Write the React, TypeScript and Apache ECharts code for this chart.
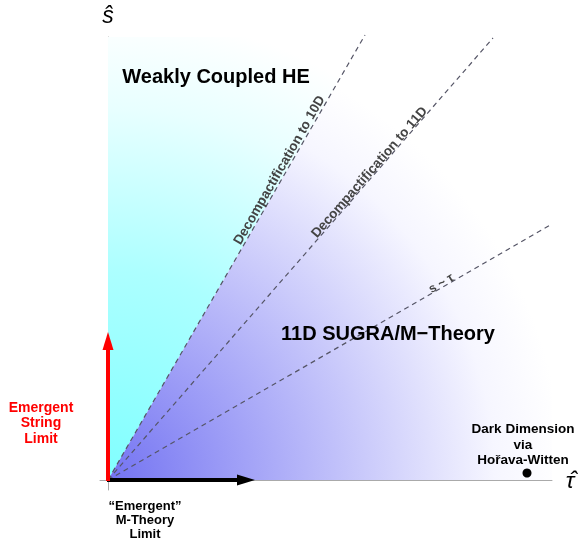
import React, { useEffect, useRef } from 'react';
import * as echarts from 'echarts';

// Rays from the origin (end points, in axis units = px from origin)
const rayNames = ['Decompactification to 10D', 'Decompactification to 11D', 's ~ τ'];
const rayEnds = [
  [257, 445],
  [385, 442],
  [444, 256],
];
// Arrows (limits)
const arrowNames = ['“Emergent” M-Theory Limit', 'Emergent String Limit'];
const arrowEnds = [
  [147, 0],
  [0, 148],
];
const arrowColors = ['#000000', '#ff0000'];
// Dark Dimension point
const darkDimensionPoint = [419, 7];
// Region names
const regionNames = ['Weakly Coupled HE', '11D SUGRA/M−Theory'];
const axisNames = ['ŝ', 'τ̂'];

const X_MIN = -8, X_MAX = 444, Y_MIN = -10, Y_MAX = 443;
const FONT = '"Liberation Sans", Arial, Helvetica, sans-serif';

export default function App() {
  const ref = useRef<HTMLDivElement>(null);
  useEffect(() => {
    if (!ref.current) return;
    const chart = echarts.init(ref.current, undefined, { renderer: 'svg' });

    const tenD = rayEnds[0];
    const topX = (Y_MAX * tenD[0]) / tenD[1];
    const regions = [
      { poly: [[0, 0], [0, Y_MAX], [topX, Y_MAX]], stops: [
        { offset: 0, color: '#80ffff' },
        { offset: 0.45, color: '#acffff' },
        { offset: 0.8, color: '#e8ffff' },
        { offset: 1, color: '#ffffff' },
      ], r: 465 },
      { poly: [[0, 0], [topX, Y_MAX], [X_MAX, Y_MAX], [X_MAX, 0]], stops: [
        { offset: 0, color: '#7373f2' },
        { offset: 0.5, color: '#c0c0fa' },
        { offset: 0.85, color: '#f6f6ff' },
        { offset: 1, color: '#ffffff' },
      ], r: 455 },
    ];

    const lbl = (value: number[], text: string, extra: any) => ({
      value,
      label: {
        show: true,
        position: 'inside',
        formatter: text,
        fontFamily: FONT,
        fontWeight: 'bold',
        ...extra,
      },
    });

    const labelData = [
      lbl([108, 404], regionNames[0], { fontSize: 20, color: '#000' }),
      lbl([280, 147], regionNames[1], { fontSize: 20, color: '#000' }),
      lbl([-67, 58], 'Emergent\nString\nLimit', { fontSize: 14, color: '#ff0000', lineHeight: 15.5 }),
      lbl([37, -39], '“Emergent”\nM-Theory\nLimit', { fontSize: 13, color: '#000', lineHeight: 14 }),
      lbl([415, 36], 'Dark Dimension\nvia\nHořava-Witten', { fontSize: 13.5, color: '#000', lineHeight: 15.5 }),
      lbl([171, 310], rayNames[0], { fontSize: 13.5, color: '#444', rotate: 60 }),
      lbl([261, 308], rayNames[1], { fontSize: 13.5, color: '#444', rotate: 48.9 }),
      lbl([333, 197], rayNames[2], { fontSize: 12.5, color: '#444', rotate: 30 }),
      lbl([0, 465], axisNames[0], { fontSize: 23, color: '#000', fontWeight: 'normal', fontStyle: 'italic' }),
      lbl([462, 0], axisNames[1], { fontSize: 23, color: '#000', fontWeight: 'normal', fontStyle: 'italic' }),
    ];

    chart.setOption({
      animation: false,
      grid: { left: 100, right: 28, top: 37, bottom: 56, containLabel: false },
      xAxis: {
        type: 'value', min: X_MIN, max: X_MAX,
        axisLine: { onZero: true, lineStyle: { color: '#aaaaaa', width: 1 } },
        axisTick: { show: false }, axisLabel: { show: false }, splitLine: { show: false },
      },
      yAxis: {
        type: 'value', min: Y_MIN, max: Y_MAX,
        axisLine: { onZero: true, lineStyle: { color: '#aaaaaa', width: 1 } },
        axisTick: { show: false }, axisLabel: { show: false }, splitLine: { show: false },
      },
      series: [
        {
          type: 'custom',
          name: 'regions',
          silent: true,
          z: 1,
          data: regions.map((_, i) => [i]),
          renderItem: (params: any, api: any) => {
            const reg = regions[api.value(0)];
            const o = api.coord([0, 0]);
            const pts = reg.poly.map((p) => api.coord(p));
            return {
              type: 'polygon',
              shape: { points: pts },
              style: {
                fill: new echarts.graphic.RadialGradient(o[0], o[1], reg.r, reg.stops, true),
                stroke: 'none',
              },
            };
          },
        },
        ...rayEnds.map((end, i) => ({
          type: 'line',
          name: rayNames[i],
          data: [[0, 0], end],
          showSymbol: false,
          symbol: 'none',
          clip: false,
          silent: true,
          z: 3,
          lineStyle: { color: '#555566', width: 1.2, type: [5, 4] },
        })),
        {
          type: 'custom',
          name: 'arrows',
          silent: true,
          clip: false,
          z: 4,
          data: arrowEnds.map((e, i) => [0, 0, e[0], e[1], i]),
          renderItem: (params: any, api: any) => {
            const a = api.coord([api.value(0), api.value(1)]);
            const b = api.coord([api.value(2), api.value(3)]);
            const col = arrowColors[api.value(4)];
            const dx = b[0] - a[0], dy = b[1] - a[1];
            const len = Math.sqrt(dx * dx + dy * dy);
            const ux = dx / len, uy = dy / len;
            const px = -uy, py = ux;
            const headL = 18, headW = 5.5;
            const base = [b[0] - ux * headL, b[1] - uy * headL];
            return {
              type: 'group',
              children: [
                {
                  type: 'line',
                  shape: { x1: a[0] - ux * 1, y1: a[1] - uy * 1, x2: base[0] + ux * 2, y2: base[1] + uy * 2 },
                  style: { stroke: col, lineWidth: 4 },
                },
                {
                  type: 'polygon',
                  shape: {
                    points: [
                      [b[0], b[1]],
                      [base[0] + px * headW, base[1] + py * headW],
                      [base[0] - px * headW, base[1] - py * headW],
                    ],
                  },
                  style: { fill: col },
                },
              ],
            };
          },
        },
        {
          type: 'scatter',
          name: 'Dark Dimension',
          data: [darkDimensionPoint],
          symbolSize: 9,
          itemStyle: { color: '#000', opacity: 1 },
          clip: false,
          silent: true,
          z: 5,
        },
        {
          type: 'scatter',
          name: 'labels',
          data: labelData,
          symbolSize: 0,
          itemStyle: { opacity: 1 },
          clip: false,
          silent: true,
          z: 6,
        },
      ],
    });
    return () => chart.dispose();
  }, []);
  return <div ref={ref} style={{ position: 'fixed', left: 0, top: 0, width: 580, height: 546 }} />;
}
